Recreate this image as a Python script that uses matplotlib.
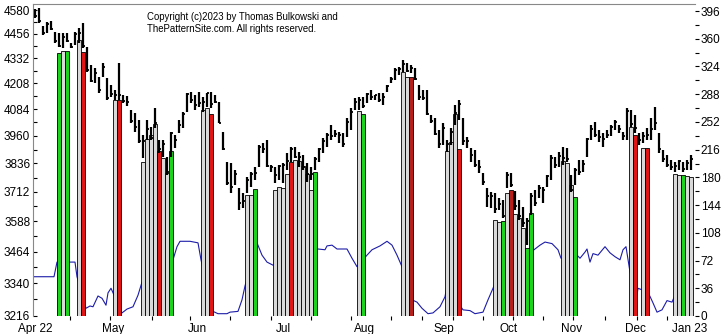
import matplotlib
matplotlib.use("Agg")
import matplotlib.pyplot as plt
from matplotlib.ticker import FixedLocator, FixedFormatter, NullFormatter
import numpy as np

# daily price bars (S&P style index), one entry per session
high = [4585, 4590, 4496, 4517, 4522, 4465, 4460, 4460, 4460, 4408,
        4465, 4486, 4512, 4387, 4298, 4283, 4239, 4307, 4234, 4200,
        4175, 4307, 4151, 4146, 4080, 4066, 4033, 3964, 4033, 4001,
        4089, 3941, 3941, 3865, 3978, 3964, 4033, 4071, 4161, 4165,
        4151, 4165, 4141, 4161, 4165, 4151, 4118, 3978, 3842, 3838,
        3807, 3728, 3707, 3776, 3798, 3820, 3918, 3928, 3941, 3829,
        3820, 3829, 3838, 3883, 3910, 3910, 3887, 3874, 3838, 3820,
        3865, 3905, 3950, 3973, 4010, 3987, 3978, 3973, 4042, 4089,
        4137, 4141, 4141, 4161, 4175, 4151, 4161, 4161, 4200, 4239,
        4283, 4288, 4322, 4307, 4298, 4283, 4200, 4175, 4175, 4056,
        4042, 3987, 4019, 3941, 3996, 4104, 4127, 4042, 3955, 3905,
        3896, 3851, 3794, 3728, 3711, 3707, 3685, 3677, 3798, 3794,
        3715, 3677, 3648, 3600, 3707, 3720, 3741, 3733, 3785, 3874,
        3865, 3887, 3910, 3905, 3785, 3816, 3851, 3851, 3950, 4010,
        4024, 3987, 3973, 3987, 4010, 4033, 4010, 3978, 4089, 4080,
        4056, 3973, 3978, 3996, 4042, 4094, 3973, 3896, 3874, 3851,
        3842, 3851, 3842, 3851, 3874]
low = [4538, 4512, 4449, 4460, 4475, 4408, 4387, 4382, 4413, 4382,
       4398, 4408, 4382, 4263, 4214, 4209, 4161, 4239, 4127, 4141,
       4127, 4127, 4113, 4099, 4019, 3978, 3928, 3860, 3941, 3941,
       3996, 3883, 3865, 3785, 3865, 3905, 3973, 3996, 4071, 4113,
       4080, 4094, 4071, 4094, 4089, 4113, 4019, 3896, 3741, 3707,
       3741, 3635, 3643, 3707, 3733, 3763, 3820, 3883, 3820, 3798,
       3750, 3763, 3750, 3807, 3842, 3860, 3820, 3807, 3754, 3763,
       3807, 3842, 3883, 3910, 3941, 3955, 3928, 3910, 3955, 3987,
       4080, 4080, 4089, 4113, 4127, 4127, 4118, 4104, 4165, 4209,
       4224, 4249, 4263, 4263, 4258, 4224, 4127, 4127, 4056, 4019,
       3964, 3905, 3919, 3887, 3919, 4010, 4033, 3919, 3905, 3842,
       3820, 3794, 3741, 3648, 3643, 3623, 3635, 3602, 3728, 3733,
       3635, 3593, 3564, 3491, 3614, 3652, 3685, 3664, 3733, 3763,
       3816, 3820, 3829, 3842, 3711, 3741, 3785, 3798, 3865, 3941,
       3955, 3932, 3910, 3950, 3960, 3987, 3973, 3941, 3941, 4001,
       3973, 3919, 3928, 3941, 3941, 3987, 3883, 3842, 3820, 3807,
       3798, 3807, 3798, 3807, 3807]
close = [4550, 4520, 4460, 4505, 4480, 4420, 4395, 4440, 4420, 4390,
         4455, 4460, 4395, 4275, 4220, 4260, 4175, 4290, 4135, 4155,
         4150, 4150, 4125, 4120, 4030, 4000, 3935, 3935, 3990, 3950,
         4020, 3900, 3925, 3800, 3975, 3940, 4010, 4060, 4155, 4130,
         4105, 4115, 4120, 4160, 4110, 4120, 4020, 3900, 3750, 3735,
         3790, 3665, 3675, 3765, 3790, 3795, 3910, 3900, 3825, 3820,
         3785, 3825, 3830, 3845, 3900, 3865, 3865, 3820, 3790, 3790,
         3855, 3900, 3935, 3965, 3960, 3970, 3965, 3925, 4025, 4070,
         4120, 4130, 4100, 4155, 4140, 4150, 4130, 4140, 4195, 4230,
         4275, 4280, 4305, 4270, 4285, 4230, 4140, 4135, 4060, 4030,
         3970, 3925, 3995, 3925, 3980, 4065, 4110, 3935, 3935, 3875,
         3830, 3820, 3755, 3695, 3695, 3640, 3660, 3610, 3785, 3740,
         3650, 3610, 3580, 3590, 3695, 3665, 3730, 3720, 3780, 3860,
         3830, 3870, 3860, 3855, 3720, 3805, 3800, 3835, 3945, 3990,
         3965, 3955, 3945, 3965, 4000, 4025, 3990, 3960, 4075, 4015,
         3995, 3940, 3960, 3965, 3990, 4020, 3900, 3855, 3830, 3820,
         3825, 3845, 3810, 3840, 3855]

# highlighted sessions: bar index, top of column, kind
mark_bar = [6, 7, 8, 11, 12, 20, 21, 27, 28, 29, 30, 31, 32, 33, 34,
            42, 43, 44, 53, 54, 55, 60, 61, 62, 63, 64, 65, 66, 67, 68, 69, 70,
            81, 82, 92, 93, 94, 103, 104, 105, 106,
            115, 116, 117, 118, 119, 120, 121, 122, 123, 124,
            132, 133, 134, 135, 149, 150, 152, 153, 160, 161, 162, 163, 164]
mark_top = [4357, 4367, 4367, 4423, 4362, 4127, 4127, 3842, 3946, 3964, 4015, 3892, 3860, 3794, 3892,
            4080, 4090, 4060, 3700, 3700, 3725, 3720, 3731, 3727, 3790, 3842, 3851, 3846, 3825, 3790, 3720, 3798,
            4075, 4060, 4264, 4240, 4240, 3890, 3930, 4060, 3900,
            3593, 3585, 3589, 3707, 3720, 3620, 3600, 3560, 3480, 3623,
            3846, 3836, 3741, 3690, 4000, 3964, 3905, 3905, 3790, 3785, 3787, 3781, 3777]
mark_kind = ["up", "flat", "up", "flat", "down", "flat", "down", "flat", "flat", "flat", "flat", "down", "flat", "flat", "up",
             "flat", "flat", "down", "flat", "flat", "up", "flat", "flat", "flat", "flat", "down", "flat", "flat", "flat", "flat", "flat", "up",
             "flat", "up", "flat", "flat", "deep", "flat", "flat", "flat", "down",
             "flat", "flat", "up", "flat", "deep", "flat", "flat", "flat", "up", "up",
             "flat", "flat", "flat", "up", "flat", "down", "flat", "down", "flat", "flat", "up", "flat", "flat"]

# indicator line (right scale)
osc_x = [-0.5, 4.75, 5.5, 10, 10.5, 12.75, 13.75, 14.5, 15.75, 16.75, 17.75, 18.25, 19,
         21.75, 23, 24.5, 25.75, 26.75, 34.5, 35.5, 36.25, 38.75, 40.75, 41.5,
         44.5, 45.75, 48, 48.75, 50.75, 51.75, 52.5, 55.5, 56.75, 58, 59.5,
         70.75, 72.5, 73, 74.25, 75.5, 78, 79.25, 80.5, 83, 84.25, 86.25, 88, 89.25, 90.5, 91.75,
         94.25, 95.5, 96.75, 98.25, 99.5, 101.25, 102.5, 103, 107, 108.75, 110, 112, 113.25, 114.5,
         117.5, 117.75, 125, 126.25, 127.5, 129.25, 130.75, 131.5, 135.5, 136.25, 137.5, 138, 138.75,
         139.5, 140.75, 142.5, 143.75, 145, 146.25, 147, 147.75, 148.75, 150.5, 150.75, 153.25,
         154.5, 155.5, 156.75, 158, 159.25, 160, 164]
osc_y = [51, 51, 70, 70, 51, 10, 13, 12, 26, 23, 14, 30, 36,
         4, 9, 12, 27, 44, 73, 90, 97, 97, 95, 73,
         6, 3, 3, 5, 6, 21, 39, 95, 79, 70, 66,
         87, 86, 91, 92, 87, 87, 75, 64, 79, 86, 91, 97, 92, 79, 64,
         21, 18, 10, 3, 4, 12, 25, 39, 8, 7, 3, 5, 21, 36,
         75, 57, 87, 92, 96, 94, 86, 75, 79, 75, 83, 87, 70,
         81, 79, 90, 82, 77, 73, 86, 90, 57, 27, 36, 31,
         17, 5, 8, 20, 18, 27, 28]

month_pos = [0, 19.5, 40.5, 62, 82.25, 102.25, 118.5, 134.25, 150, 163.75]
month_names = ["Apr 22", "May", "Jun", "Jul", "Aug", "Sep", "Oct", "Nov", "Dec", "Jan 23"]
week_pos = [8.75, 18.75, 29.25, 38.75, 48.75, 59, 69, 79, 89, 96.75, 104.5,
            112, 119.5, 127, 134.5, 142.5, 150.5, 158]

price_ticks = [3216 + 124 * k for k in range(12)]
price_minor = [3278 + 124 * k for k in range(11)]
osc_ticks = list(range(0, 397, 36))
osc_minor = list(range(18, 397, 36))

fill = {"up": "#1ed31e", "flat": "#d9d9d9", "down": "#e01515", "deep": "#b5201c"}

plt.rcParams["font.family"] = ["Liberation Sans", "DejaVu Sans"]

fig = plt.figure(figsize=(7.25, 3.34), dpi=100)
ax = fig.add_axes([33 / 725, 18 / 334, 662 / 725, 312 / 334])
ax2 = ax.twinx()
ax.set_zorder(2)
ax2.set_zorder(1)
ax.patch.set_visible(False)

# indicator sits behind everything else
ax2.plot(osc_x, osc_y, color="#1c1ca8", lw=0.8)
ax2.set_ylim(0, 405.1)

x = np.arange(len(high))
ax.bar(mark_bar, [t - 3216 for t in mark_top], bottom=3216, width=1.0,
       color=[fill[k] for k in mark_kind], edgecolor="black", linewidth=0.6, zorder=2)
ax.vlines(x, low, high, color="black", lw=1.6, zorder=4)
ax.hlines(close, x, x + 0.55, color="black", lw=1.3, zorder=4)

ax.set_yscale("log")
ax.set_ylim(3216, 4612)
ax.set_xlim(-0.5, 165)

ax.yaxis.set_major_locator(FixedLocator(price_ticks))
ax.yaxis.set_major_formatter(FixedFormatter([str(v) for v in price_ticks]))
ax.yaxis.set_minor_locator(FixedLocator(price_minor))
ax.yaxis.set_minor_formatter(NullFormatter())
ax.tick_params(axis="y", which="both", direction="in", length=3, width=0.8,
               labelsize=8.5, pad=2)

ax.set_xticks(month_pos)
ax.set_xticklabels(month_names)
ax.set_xticks(week_pos, minor=True)
ax.tick_params(axis="x", which="major", length=0, labelsize=8.5, pad=5)
ax.tick_params(axis="x", which="minor", direction="out", length=3, width=0.8)

ax2.yaxis.set_major_locator(FixedLocator(osc_ticks))
ax2.yaxis.set_minor_locator(FixedLocator(osc_minor))
ax2.yaxis.set_minor_formatter(NullFormatter())
ax2.tick_params(axis="y", which="both", direction="out", length=3, width=0.8,
                labelsize=8.5, pad=1)

for s in ["right", "bottom"]:
    ax.spines[s].set_visible(False)
for s in ["top", "left"]:
    ax.spines[s].set_color("#888888")
for s in ax2.spines.values():
    s.set_visible(False)

fig.text(147 / 725, 1 - 12 / 334, "Copyright (c)2023 by Thomas Bulkowski and\nThePatternSite.com. All rights reserved.",
         fontsize=6.9, va="top", ha="left", linespacing=1.25)

fig.savefig("out.png", dpi=100)
